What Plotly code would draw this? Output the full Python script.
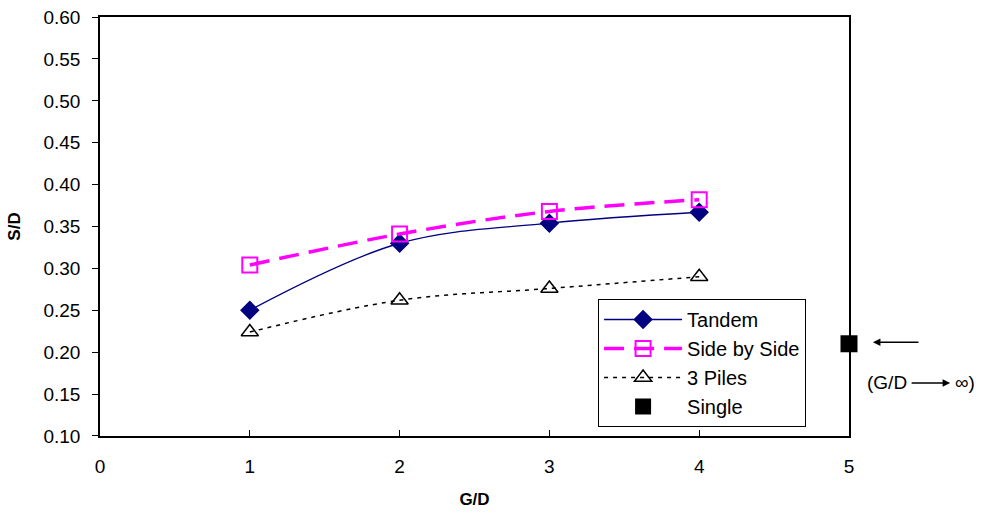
import plotly.graph_objects as go

gd = [1, 2, 3, 4]
tandem = [0.250, 0.330, 0.354, 0.367]
side_by_side = [0.304, 0.341, 0.368, 0.382]
three_piles = [0.224, 0.262, 0.276, 0.290]
single_x = [5]
single_y = [0.210]
y_ticks = [0.10, 0.15, 0.20, 0.25, 0.30, 0.35, 0.40, 0.45, 0.50, 0.55, 0.60]
x_ticks = [0, 1, 2, 3, 4, 5]

FONT = "Liberation Sans, Arial, sans-serif"

fig = go.Figure()
fig.add_trace(go.Scatter(
    x=gd, y=tandem, name="Tandem", mode="lines+markers",
    line=dict(color="#000080", width=1.3, shape="spline"),
    marker=dict(symbol="diamond", size=15, color="#000080"),
))
fig.add_trace(go.Scatter(
    x=gd, y=side_by_side, name="Side by Side", mode="lines+markers",
    line=dict(color="#FF00FF", width=3.5, dash="20px,10px", shape="spline"),
    marker=dict(symbol="square-open", size=15, color="#FF00FF", line=dict(width=2)),
))
fig.add_trace(go.Scatter(
    x=gd, y=three_piles, name="3 Piles", mode="lines+markers",
    line=dict(color="black", width=1.5, dash="4px,5px", shape="spline"),
    marker=dict(symbol="triangle-up-open", size=15, color="black", line=dict(width=1.5)),
))
fig.add_trace(go.Scatter(
    x=single_x, y=single_y, name="Single", mode="markers",
    marker=dict(symbol="square", size=17, color="black"),
    cliponaxis=False,
))

fig.update_layout(
    width=988, height=517,
    margin=dict(l=100, r=139, t=17, b=81, autoexpand=False),
    paper_bgcolor="white", plot_bgcolor="white",
    font=dict(family=FONT, size=19, color="black"),
    showlegend=True,
    legend=dict(
        x=0.665, y=0.327, xanchor="left", yanchor="top",
        bordercolor="black", borderwidth=1, bgcolor="white",
        font=dict(family=FONT, size=20),
        itemwidth=78, tracegroupgap=0,
    ),
    xaxis=dict(
        range=[0, 5], tickvals=x_ticks,
        showgrid=False, zeroline=False,
        showline=True, linecolor="black", linewidth=1.5, mirror=True,
        ticks="inside", ticklen=6, tickcolor="black",
        tickfont=dict(size=19), ticklabelstandoff=12,
        title=dict(text="<b>G/D</b>", font=dict(size=17), standoff=18),
    ),
    yaxis=dict(
        range=[0.0999, 0.6001], tickvals=y_ticks,
        tickformat=".2f",
        showgrid=False, zeroline=False,
        showline=True, linecolor="black", linewidth=1.5, mirror=True,
        ticks="outside", ticklen=6, tickcolor="black",
        tickfont=dict(size=19), ticklabelstandoff=8,
        title=dict(text="<b>S/D</b>", font=dict(size=17), standoff=19),
    ),
)

# arrow pointing to the Single point
fig.add_annotation(
    xref="paper", yref="paper", x=1.032, y=0.224,
    ax=47, ay=0, axref="pixel", ayref="pixel",
    showarrow=True, arrowhead=2, arrowsize=1, arrowwidth=1.5, arrowcolor="black", text="",
)
fig.add_annotation(
    xref="paper", yref="paper", x=1.022, y=0.1265, xanchor="left", yanchor="middle",
    text="(G/D", showarrow=False, font=dict(family=FONT, size=19),
)
fig.add_annotation(
    xref="paper", yref="paper", x=1.135, y=0.1265,
    ax=-40, ay=0, axref="pixel", ayref="pixel",
    showarrow=True, arrowhead=2, arrowsize=1, arrowwidth=1.5, arrowcolor="black", text="",
)
fig.add_annotation(
    xref="paper", yref="paper", x=1.139, y=0.1265, xanchor="left", yanchor="middle",
    text="\u221e)", showarrow=False, font=dict(family=FONT, size=19),
)

fig.write_html(
    "out.html",
    config={"displayModeBar": False},
    post_script="document.body.style.margin='0';",
)
